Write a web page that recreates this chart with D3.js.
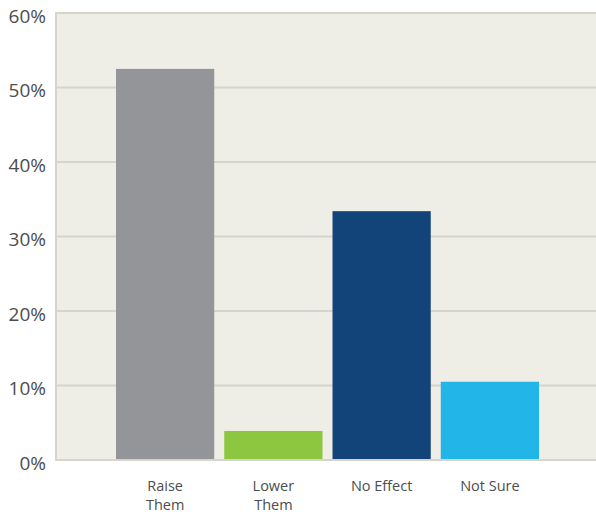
<!DOCTYPE html>
<html>
<head>
<meta charset="utf-8">
<script src="https://cdn.jsdelivr.net/npm/d3@7"></script>
<style>
html,body{margin:0;padding:0;background:#fff;}
svg{display:block;}
</style>
</head>
<body>
<svg id="chart" width="596" height="514"></svg>
<script>
const categories = [["Raise","Them"],["Lower","Them"],["No Effect"],["Not Sure"]];
const values = [52.5, 3.9, 33.4, 10.5];
const barColors = ["#939598", "#8dc63f", "#134479", "#22b5e8"];
const yTicks = [0, 10, 20, 30, 40, 50, 60];

const svg = d3.select("#chart");
const plot = {left: 56, right: 596, top: 13, bottom: 460};

const y = d3.scaleLinear().domain([0, 60]).range([plot.bottom, plot.top]);
const x = d3.scaleBand().domain(d3.range(categories.length))
  .range([116, 539]).paddingInner(0.0926).paddingOuter(0);

svg.append("rect")
  .attr("x", plot.left).attr("y", plot.top)
  .attr("width", plot.right - plot.left).attr("height", plot.bottom - plot.top)
  .attr("fill", "#efeee6");

svg.append("g").selectAll("line").data(yTicks).join("line")
  .attr("x1", plot.left).attr("x2", plot.right)
  .attr("y1", d => y(d)).attr("y2", d => y(d))
  .attr("stroke", "#d6d4cb").attr("stroke-width", 2);

svg.append("line")
  .attr("x1", plot.left).attr("x2", plot.left)
  .attr("y1", plot.top - 1).attr("y2", plot.bottom + 1)
  .attr("stroke", "#d6d4cb").attr("stroke-width", 2);

svg.append("g").selectAll("rect").data(values).join("rect")
  .attr("x", (d, i) => x(i))
  .attr("width", x.bandwidth())
  .attr("y", d => y(d))
  .attr("height", d => y(0) - y(d) - 1)
  .attr("fill", (d, i) => barColors[i]);

const yAxis = d3.axisLeft(y).tickValues(yTicks).tickFormat(d => d + "%").tickSize(0).tickPadding(0);
const ya = svg.append("g").attr("transform", `translate(${plot.left - 10},3)`).call(yAxis);
ya.select(".domain").remove();
ya.selectAll("text")
  .attr("font-family", "'Open Sans', sans-serif")
  .attr("font-size", 19)
  .attr("fill", "#4d4d4d");

const xAxis = d3.axisBottom(x).tickSize(0).tickFormat(() => "");
const xa = svg.append("g").attr("transform", `translate(0,${plot.bottom})`).call(xAxis);
xa.select(".domain").remove();
xa.selectAll(".tick").each(function(d) {
  const t = d3.select(this).append("text")
    .attr("text-anchor", "middle")
    .attr("font-family", "'Open Sans', sans-serif")
    .attr("font-size", 14.5)
    .attr("fill", "#4d4d4d");
  categories[d].forEach((line, k) => {
    t.append("tspan").attr("x", 0).attr("y", 30.5 + k * 19.8).text(line);
  });
});
</script>
</body>
</html>
